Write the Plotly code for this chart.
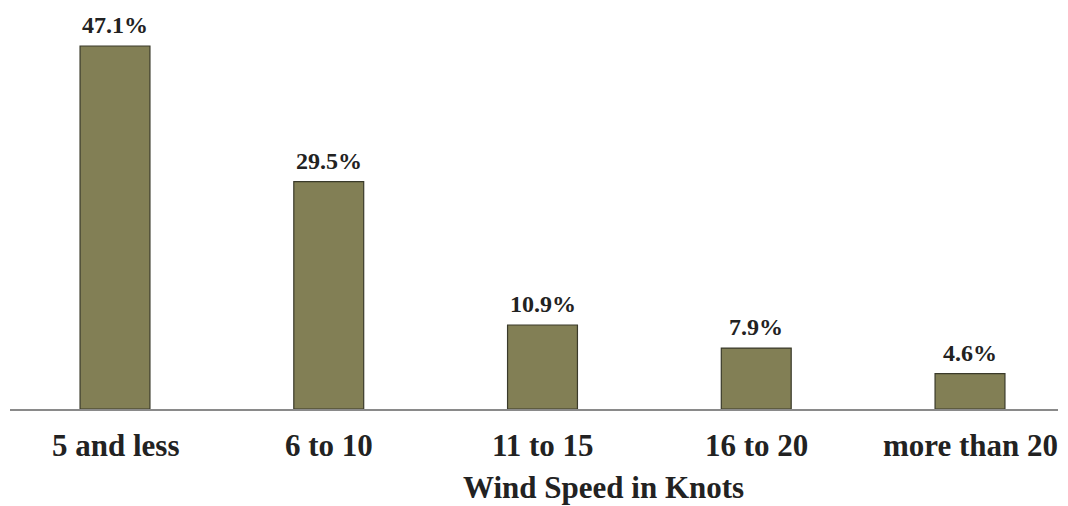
import plotly.graph_objects as go

categories = ["5 and less", "6 to 10", "11 to 15", "16 to 20", "more than 20"]
values = [47.1, 29.5, 10.9, 7.9, 4.6]
value_labels = ["47.1%", "29.5%", "10.9%", "7.9%", "4.6%"]
x_title = "Wind Speed in Knots"

FONT = "'Liberation Serif', 'Times New Roman', 'DejaVu Serif', serif"
# page is offset by the 8px body margin
W, H = 1060, 498
L, R = 2, 1050
TOP, BASE = 2, 401
px_per_unit = 213.75
x0 = -(107 - L) / px_per_unit
x1 = x0 + (R - L) / px_per_unit
ymax = (BASE - TOP) / ((BASE - 38) / 47.1)

xs = list(range(len(categories)))

fig = go.Figure()
fig.add_trace(go.Bar(
    x=xs, y=values, width=0.327,
    marker=dict(color="#827f55", line=dict(color="#3a3a2a", width=1.2)),
    hoverinfo="skip",
))
for i, v in enumerate(values):
    fig.add_annotation(x=i, y=v, text=f"<b>{value_labels[i]}</b>", showarrow=False,
                       yanchor="middle", yshift=21,
                       font=dict(family=FONT, size=24, color="#222222"))
for i, c in enumerate(categories):
    fig.add_annotation(x=i, y=0, text=f"<b>{c}</b>", showarrow=False,
                       yanchor="middle", yshift=-36,
                       font=dict(family=FONT, size=31, color="#222222"))
fig.add_annotation(x=2, y=0, text=f"<b>{x_title}</b>", showarrow=False,
                   yanchor="middle", yshift=-78, xshift=61,
                   font=dict(family=FONT, size=31, color="#222222"))

fig.update_layout(
    width=W, height=H,
    margin=dict(l=L, r=W - R, t=TOP, b=H - BASE),
    plot_bgcolor="white", paper_bgcolor="white",
    showlegend=False,
    xaxis=dict(range=[x0, x1], showticklabels=False, showgrid=False, zeroline=False,
               showline=True, linecolor="#8a8a8a", linewidth=1.5, ticks=""),
    yaxis=dict(range=[0, ymax], visible=False, showgrid=False, zeroline=False),
)

fig.write_html("out.html")
